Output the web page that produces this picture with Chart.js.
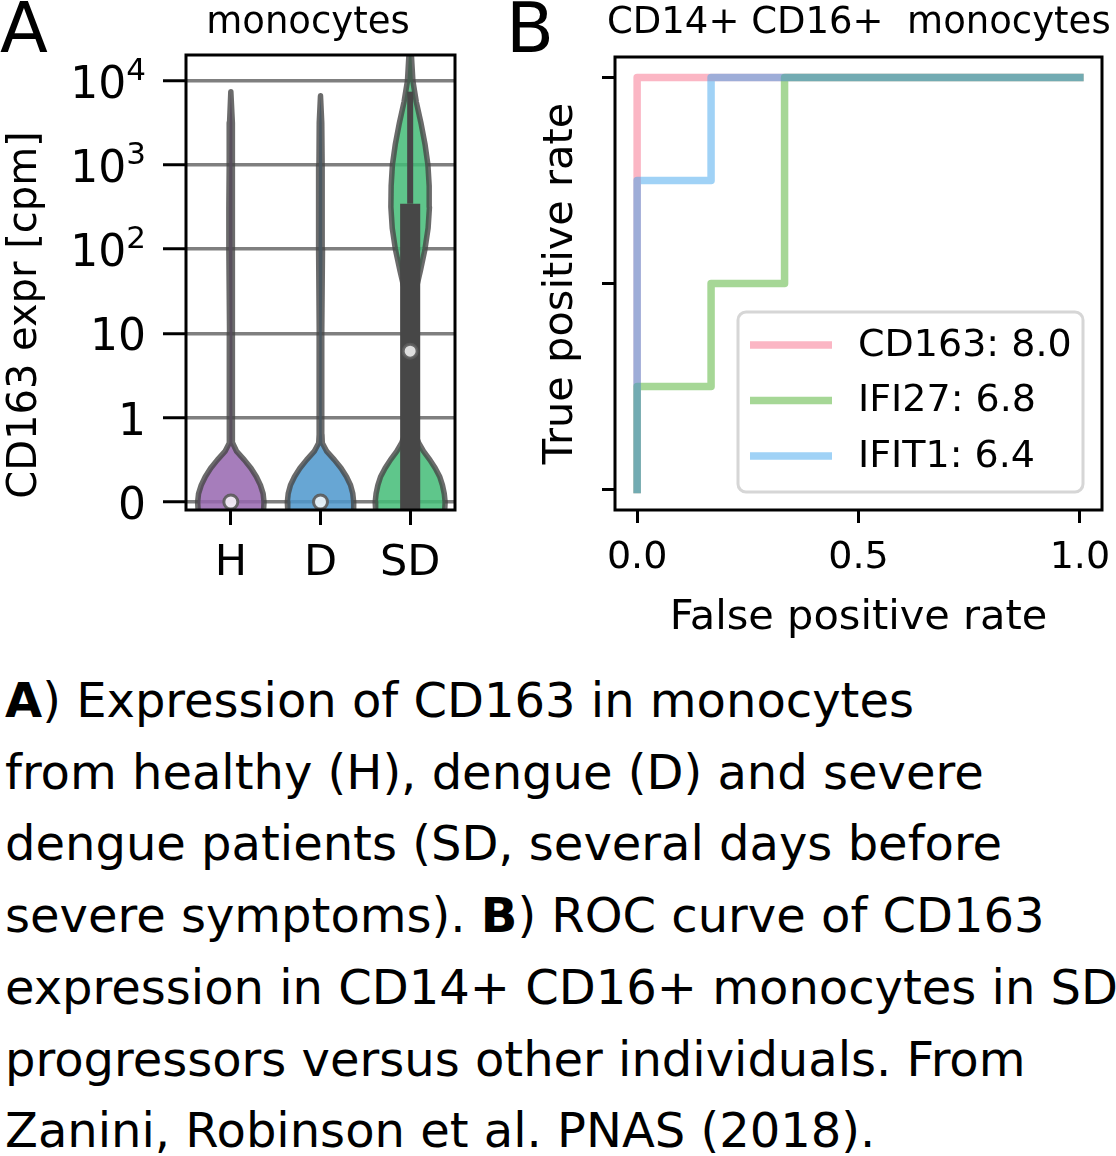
<!DOCTYPE html>
<html>
<head>
<meta charset="utf-8">
<script src="https://cdn.jsdelivr.net/npm/chart.js@4.4.0/dist/chart.umd.min.js"></script>
<style>
  html, body { margin: 0; padding: 0; background: #fff; }
  body { width: 1116px; height: 1156px; position: relative; overflow: hidden;
         font-family: 'DejaVu Sans', sans-serif; color: #000; }
  canvas { position: absolute; }
  .txt { position: absolute; white-space: pre; line-height: 1; }
  #caption { position: absolute; left: 5px; top: 665px; font-size: 48px; line-height: 71.7px; white-space: pre; }
</style>
</head>
<body>
<canvas id="violin" width="470" height="600" style="left:0;top:0"></canvas>
<canvas id="roc" width="616" height="660" style="left:500px;top:0"></canvas>

<div class="txt" style="left:0;top:-7px;font-size:70px">A</div>
<div class="txt" style="left:506px;top:-7px;font-size:70px">B</div>
<div class="txt" style="left:108px;top:2px;width:400px;text-align:center;font-size:37px">monocytes</div>
<div class="txt" style="left:607px;top:2px;font-size:37px">CD14+ CD16+  monocytes</div>
<div class="txt" style="left:-188px;top:295px;width:420px;text-align:center;font-size:40px;line-height:40px;transform:rotate(-90deg)">CD163 expr [cpm]</div>

<div id="caption"><b>A</b>) Expression of CD163 in monocytes
from healthy (H), dengue (D) and severe
dengue patients (SD, several days before
severe symptoms). <b>B</b>) ROC curve of CD163
expression in CD14+ CD16+ monocytes in SD
progressors versus other individuals. From
Zanini, Robinson et al. PNAS (2018).</div>

<script>
// ---- panel A: violins of log10(cpm + 0.1) ----
const groups = ['H', 'D', 'SD']
const yTickVals = [-1, 0, 1, 2, 3, 4]
const yTickBase = ['0', '1', '10', '10', '10', '10']
const yTickSup = ['', '', '', '2', '3', '4']

// violin profiles: level (log units) and half width (category units)
const hLevels = [-1.2, -1.1, -1.0, -0.9, -0.8, -0.7, -0.6, -0.5, -0.4, -0.3, -0.2, 0, 1, 2, 2.5, 3, 3.5, 3.87]
const hWidths = [0.36, 0.365, 0.37, 0.36, 0.33, 0.285, 0.225, 0.15, 0.065, 0.02, 0.016, 0.014, 0.014, 0.022, 0.022, 0.018, 0.014, 0]
const dLevels = [-1.2, -1.1, -1.0, -0.9, -0.8, -0.7, -0.6, -0.5, -0.4, -0.3, -0.2, 0, 1, 2, 2.5, 3, 3.5, 3.82]
const dWidths = [0.36, 0.365, 0.37, 0.36, 0.335, 0.29, 0.23, 0.155, 0.07, 0.02, 0.016, 0.014, 0.014, 0.022, 0.02, 0.017, 0.014, 0]
const sdLevels = [-1.2, -1.1, -1.0, -0.9, -0.8, -0.7, -0.6, -0.5, -0.4, -0.3, -0.2, -0.1, 0, 0.5, 1, 1.25, 1.5, 1.75, 2, 2.25, 2.5, 2.75, 3, 3.25, 3.5, 3.75, 4, 4.3, 4.6]
const sdWidths = [0.38, 0.385, 0.39, 0.38, 0.36, 0.33, 0.28, 0.22, 0.15, 0.095, 0.06, 0.035, 0.02, 0.015, 0.018, 0.03, 0.06, 0.115, 0.165, 0.2, 0.215, 0.212, 0.198, 0.165, 0.12, 0.068, 0.03, 0.014, 0]

const medians = [-1, -1, 0.79]
const sdBox = [-1.2, 2.54]   // q1 (below the axis), q3
const sdWhiskerTop = 3.87

// ---- panel B: ROC curves ----
const rocLabels = ['CD163: 8.0', 'IFI27: 6.8', 'IFIT1: 6.4']
const fprCD163 = [0, 0, 1]
const tprCD163 = [0, 1, 1]
const fprIFI27 = [0, 0, 0.167, 0.167, 0.333, 0.333, 1]
const tprIFI27 = [0, 0.25, 0.25, 0.5, 0.5, 1, 1]
const fprIFIT1 = [0, 0, 0.167, 0.167, 1]
const tprIFIT1 = [0, 0.75, 0.75, 1, 1]
const rocTicks = [0, 0.5, 1]

Chart.defaults.font.family = "'DejaVu Sans', sans-serif"
Chart.defaults.color = '#000'

const violinColors = ['rgba(150,102,175,0.85)', 'rgba(76,150,204,0.85)', 'rgba(67,188,119,0.85)']
const rocColors = ['rgba(247,109,137,0.5)', 'rgba(77,175,45,0.5)', 'rgba(65,165,237,0.5)']
const boxHalf = 0.112

function violinPoints(center, levels, widths) {
	const right = levels.map((y, i) => ({ x: center + widths[i], y }))
	const left = levels.map((y, i) => ({ x: center - widths[i], y })).reverse()
	return right.concat(left)
}

const frame = {
	id: 'frame',
	afterDatasetsDraw(chart) {
		const { ctx, chartArea: a } = chart
		ctx.save()
		ctx.strokeStyle = '#000'
		ctx.lineWidth = 3
		ctx.strokeRect(a.left, a.top, a.right - a.left, a.bottom - a.top)
		ctx.restore()
	},
}

// y tick labels of panel A with superscript powers
const powerLabels = {
	id: 'powerLabels',
	afterDraw(chart) {
		const { ctx } = chart
		const y = chart.scales.y
		const xr = 146
		ctx.save()
		ctx.fillStyle = '#000'
		ctx.textBaseline = 'alphabetic'
		yTickVals.forEach((v, i) => {
			const py = y.getPixelForValue(v)
			let supW = 0
			if (yTickSup[i]) {
				ctx.font = "31px 'DejaVu Sans'"
				supW = ctx.measureText(yTickSup[i]).width
				ctx.textAlign = 'left'
				ctx.fillText(yTickSup[i], xr - supW, py - 1)
			}
			ctx.font = "44px 'DejaVu Sans'"
			ctx.textAlign = 'right'
			ctx.fillText(yTickBase[i], xr - supW, py + 17)
		})
		ctx.restore()
	},
}

const rocLegend = {
	id: 'rocLegend',
	afterDatasetsDraw(chart) {
		const { ctx, chartArea: a } = chart
		const w = 345, h = 180
		const x0 = a.right - 19 - w, y0 = a.bottom - 18 - h
		ctx.save()
		ctx.beginPath()
		ctx.roundRect(x0, y0, w, h, 8)
		ctx.fillStyle = 'rgba(255,255,255,0.8)'
		ctx.fill()
		ctx.lineWidth = 3
		ctx.strokeStyle = '#d6d6d6'
		ctx.stroke()
		ctx.font = "38px 'DejaVu Sans'"
		ctx.textBaseline = 'middle'
		ctx.textAlign = 'left'
		chart.data.datasets.forEach((ds, i) => {
			const ry = y0 + 33 + i * 55.5
			ctx.beginPath()
			ctx.moveTo(x0 + 12, ry)
			ctx.lineTo(x0 + 94, ry)
			ctx.lineWidth = 7.5
			ctx.lineCap = 'butt'
			ctx.strokeStyle = ds.borderColor
			ctx.stroke()
			ctx.fillStyle = '#000'
			ctx.fillText(ds.label, x0 + 120, ry + 1)
		})
		ctx.restore()
	},
}

const violinData = [
	violinPoints(0, hLevels, hWidths),
	violinPoints(1, dLevels, dWidths),
	violinPoints(2, sdLevels, sdWidths),
]

new Chart(document.getElementById('violin'), {
	type: 'line',
	data: {
		datasets: [
			{
				label: 'median',
				data: medians.map((y, i) => ({ x: i, y })),
				showLine: false,
				pointRadius: 7,
				pointBackgroundColor: 'rgba(255,255,255,0.82)',
				pointBorderColor: 'rgba(90,90,90,0.9)',
				pointBorderWidth: 3,
				order: 0,
				clip: 0,
			},
			{
				label: 'SD whisker',
				data: [{ x: 2, y: sdBox[1] }, { x: 2, y: sdWhiskerTop }],
				borderColor: '#474747',
				borderWidth: 6,
				borderCapStyle: 'butt',
				pointRadius: 0,
				fill: false,
				order: 1,
				clip: 0,
			},
			{
				label: 'SD box',
				data: [
					{ x: 2 - boxHalf, y: sdBox[0] }, { x: 2 + boxHalf, y: sdBox[0] },
					{ x: 2 + boxHalf, y: sdBox[1] }, { x: 2 - boxHalf, y: sdBox[1] },
				],
				fill: 'shape',
				backgroundColor: '#474747',
				borderColor: 'rgba(0,0,0,0)',
				borderWidth: 1,
				pointRadius: 0,
				order: 1,
				clip: 0,
			},
			...groups.map((g, i) => ({
				label: g,
				data: violinData[i],
				fill: 'shape',
				backgroundColor: violinColors[i],
				borderColor: 'rgba(70,70,70,0.8)',
				borderWidth: 5.5,
				borderJoinStyle: 'round',
				pointRadius: 0,
				tension: 0,
				order: 3,
				clip: 0,
			})),
		],
	},
	options: {
		responsive: false,
		animation: false,
		events: [],
		layout: { padding: { top: 55, right: 15, left: 0, bottom: 0 } },
		plugins: { legend: { display: false }, tooltip: { enabled: false } },
		scales: {
			x: {
				type: 'linear',
				min: -0.5,
				max: 2.5,
				afterBuildTicks: s => { s.ticks = groups.map((g, i) => ({ value: i })) },
				afterFit: s => { s.height = 90; s.paddingLeft = 0; s.paddingRight = 0 },
				ticks: { callback: v => groups[v], font: { size: 43 }, padding: 13, maxRotation: 0, autoSkip: false },
				grid: { drawOnChartArea: false, tickLength: 15, tickWidth: 3, tickColor: '#000' },
				border: { display: false },
			},
			y: {
				type: 'linear',
				min: -1.095,
				max: 4.305,
				afterBuildTicks: s => { s.ticks = yTickVals.map(v => ({ value: v })) },
				afterFit: s => { s.width = 186; s.paddingTop = 0; s.paddingBottom = 0 },
				ticks: { display: false },
				grid: { color: 'rgba(0,0,0,0.5)', lineWidth: 3.5, tickLength: 23, tickWidth: 3, tickColor: '#000' },
				border: { display: false },
			},
		},
	},
	plugins: [frame, powerLabels],
})

const rocX = [fprCD163, fprIFI27, fprIFIT1]
const rocY = [tprCD163, tprIFI27, tprIFIT1]

new Chart(document.getElementById('roc'), {
	type: 'line',
	data: {
		datasets: rocLabels.map((label, i) => ({
			label,
			data: rocX[i].map((x, j) => ({ x, y: rocY[i][j] })),
			borderColor: rocColors[i],
			borderWidth: 7.5,
			borderJoinStyle: 'round',
			borderCapStyle: 'square',
			pointRadius: 0,
			tension: 0,
			fill: false,
			order: 2 - i,
		})),
	},
	options: {
		responsive: false,
		animation: false,
		events: [],
		layout: { padding: { top: 57, right: 14, left: 0, bottom: 0 } },
		plugins: { legend: { display: false }, tooltip: { enabled: false } },
		scales: {
			x: {
				type: 'linear',
				min: -0.05,
				max: 1.05,
				afterBuildTicks: s => { s.ticks = rocTicks.map(v => ({ value: v })) },
				afterFit: s => { s.height = 150; s.paddingLeft = 0; s.paddingRight = 0 },
				ticks: { callback: v => v.toFixed(1), font: { size: 38 }, padding: 12, maxRotation: 0, autoSkip: false },
				grid: { drawOnChartArea: false, tickLength: 13, tickWidth: 3, tickColor: '#000' },
				border: { display: false },
				title: { display: true, text: 'False positive rate', font: { size: 41.5 }, padding: { top: 0, bottom: 17 } },
			},
			y: {
				type: 'linear',
				min: -0.05,
				max: 1.05,
				afterBuildTicks: s => { s.ticks = rocTicks.map(v => ({ value: v })) },
				afterFit: s => { s.width = 115; s.paddingTop = 0; s.paddingBottom = 0 },
				ticks: { display: false },
				grid: { drawOnChartArea: false, tickLength: 13, tickWidth: 3, tickColor: '#000' },
				border: { display: false },
				title: { display: true, text: 'True positive rate', font: { size: 41.5 }, padding: { top: 36, bottom: 0 } },
			},
		},
	},
	plugins: [frame, rocLegend],
})
</script>
</body>
</html>
